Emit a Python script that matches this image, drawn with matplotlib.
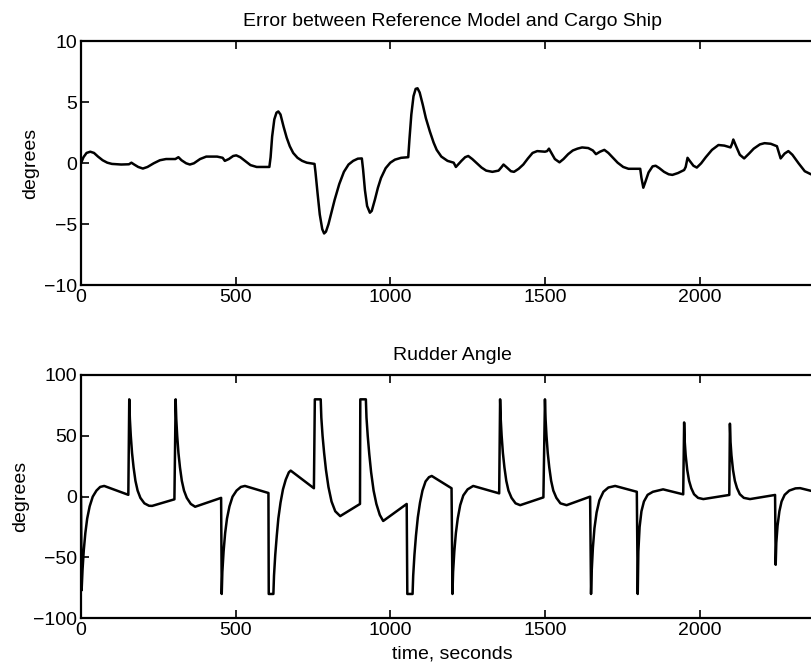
import matplotlib.pyplot as plt

# error between reference model and ship heading (degrees)
t_err = [0, 8, 18, 30, 42, 55, 70, 85, 100, 130, 155, 163, 172, 185, 200, 215,
         235, 255, 275, 305, 315, 325, 340, 352, 365, 385, 405, 440, 458, 465,
         478, 492, 502, 515, 530, 548, 568, 609, 613, 618, 625, 632, 638, 645,
         655, 665, 675, 686, 700, 715, 730, 755, 758, 765, 772, 780, 786, 792,
         800, 810, 820, 835, 850, 865, 880, 895, 908, 912, 918, 925, 934, 940,
         950, 960, 970, 985, 1000, 1015, 1035, 1058, 1062, 1068, 1075, 1082, 1088,
         1095, 1105, 1115, 1128, 1140, 1150, 1165, 1185, 1205, 1212, 1230, 1242,
         1252, 1265, 1280, 1295, 1310, 1330, 1350, 1360, 1366, 1375, 1390, 1400,
         1415, 1430, 1445, 1460, 1475, 1500, 1507, 1513, 1522, 1532, 1547, 1560,
         1575, 1590, 1605, 1620, 1640, 1655, 1665, 1678, 1692, 1705, 1720, 1735,
         1753, 1770, 1808, 1812, 1818, 1825, 1835, 1848, 1858, 1870, 1885, 1900,
         1912, 1930, 1950, 1955, 1961, 1968, 1980, 1991, 2005, 2020, 2040, 2061,
         2080, 2100, 2105, 2109, 2118, 2130, 2144, 2160, 2175, 2195, 2210, 2230,
         2250, 2256, 2262, 2275, 2287, 2300, 2320, 2340, 2360, 2400]
err = [0.0, 0.5, 0.85, 0.95, 0.85, 0.55, 0.25, 0.05, -0.05, -0.1, -0.08, 0.05,
       -0.1, -0.3, -0.43, -0.3, 0.0, 0.25, 0.35, 0.35, 0.5, 0.25, 0.0, -0.1, 0.0,
       0.35, 0.55, 0.55, 0.45, 0.2, 0.35, 0.6, 0.65, 0.5, 0.2, -0.15, -0.3, -0.3,
       0.5, 2.2, 3.6, 4.15, 4.25, 4.0, 3.0, 2.1, 1.4, 0.85, 0.45, 0.2, 0.05, -0.05,
       -0.7, -2.5, -4.2, -5.4, -5.75, -5.6, -5.0, -4.0, -3.0, -1.7, -0.7, -0.1, 0.2,
       0.38, 0.4, -0.5, -2.2, -3.5, -4.05, -3.9, -3.0, -2.0, -1.2, -0.4, 0.05, 0.3,
       0.45, 0.5, 2.0, 4.0, 5.5, 6.1, 6.15, 5.8, 4.8, 3.7, 2.6, 1.7, 1.1, 0.55,
       0.2, 0.05, -0.3, 0.2, 0.5, 0.6, 0.35, 0.0, -0.35, -0.6, -0.7, -0.6, -0.3,
       -0.1, -0.3, -0.65, -0.7, -0.45, -0.1, 0.4, 0.85, 1.0, 0.95, 1.0, 1.2, 0.8,
       0.35, 0.08, 0.35, 0.75, 1.05, 1.2, 1.3, 1.25, 1.05, 0.75, 0.95, 1.1, 0.85,
       0.45, 0.05, -0.3, -0.45, -0.45, -1.2, -2.0, -1.5, -0.75, -0.25, -0.2, -0.4,
       -0.7, -0.9, -0.95, -0.8, -0.55, -0.3, 0.45, 0.2, -0.2, -0.35, 0.0, 0.5, 1.1,
       1.5, 1.45, 1.3, 1.6, 1.95, 1.4, 0.7, 0.4, 0.8, 1.2, 1.55, 1.65, 1.6, 1.4,
       0.9, 0.4, 0.8, 1.0, 0.7, 0.0, -0.65, -0.9, -0.95]

# rudder angle (degrees)
t_rud = [0, 2, 5, 9, 14, 20, 28, 38, 50, 62, 75, 153,
         156, 158, 161, 165, 170, 176, 183, 192, 205, 220, 230, 302,
         306, 308, 311, 315, 320, 326, 333, 342, 355, 369, 453,
         455, 457, 461, 466, 472, 480, 490, 503, 517, 530, 606,
         607, 622, 624, 628, 633, 638, 645, 653, 662, 672, 678, 753,
         756, 775, 777, 781, 786, 792, 800, 810, 822, 838, 902,
         903, 921, 923, 927, 932, 938, 946, 955, 966, 977, 1053,
         1055, 1072, 1074, 1078, 1083, 1089, 1096, 1104, 1114, 1125, 1134, 1198,
         1201, 1203, 1207, 1212, 1218, 1226, 1236, 1250, 1268, 1352,
         1355, 1357, 1360, 1364, 1369, 1375, 1382, 1392, 1405, 1420, 1495,
         1500, 1502, 1505, 1509, 1514, 1520, 1527, 1537, 1550, 1570, 1646,
         1649, 1651, 1655, 1660, 1667, 1676, 1689, 1705, 1727, 1797,
         1800, 1802, 1806, 1812, 1820, 1832, 1849, 1882, 1947,
         1950, 1952, 1955, 1960, 1966, 1973, 1982, 1995, 2012, 2096,
         2098, 2100, 2103, 2108, 2114, 2121, 2130, 2143, 2163, 2244,
         2246, 2248, 2252, 2258, 2265, 2275, 2290, 2310, 2325, 2363, 2400]
rudder = [0, -77, -60, -44, -30, -18, -8, 0, 5, 8, 8.8, 1.5,
          80, 64, 50, 36, 24, 13, 5, -1, -5.5, -7.5, -7.6, -2.2,
          80, 64, 50, 36, 24, 13, 5, -1, -6, -8.3, -1,
          -80, -62, -45, -30, -18, -8, 0, 5, 8, 8.8, 3,
          -80, -80, -65, -48, -32, -18, -5, 6, 14, 20, 21.4, 6.9,
          80, 80, 65, 50, 36, 22, 8, -4, -12, -16, -6,
          80, 80, 65, 50, 35, 20, 5, -6, -15, -20, -6,
          -80, -80, -65, -48, -32, -17, -5, 5, 12.5, 16, 17, 6.9,
          -80, -62, -45, -30, -18, -7, 1, 6, 8.8, 2.7,
          80, 64, 50, 36, 24, 13, 5, -1, -5.5, -7, -0.6,
          80, 64, 50, 36, 24, 13, 5, -1, -5.5, -7, 0,
          -80, -62, -42, -26, -13, -3, 4, 7.5, 8.8, 4,
          -80, -45, -25, -12, -4, 1.5, 4, 6, 1.9,
          61, 45, 34, 22, 13, 7, 2, -1, -2, 1.4,
          60, 45, 34, 22, 13, 7, 2, -1, -2, 1.4,
          -56, -38, -24, -12, -4, 1.5, 5, 6.8, 7, 4.6, 3]

plt.rcParams['font.family'] = ['Liberation Sans', 'DejaVu Sans']
plt.rcParams['font.size'] = 14

fig = plt.figure(figsize=(8.12, 6.66), dpi=100)
W, H = 812, 666
xmax = 2400
width = xmax * 0.3093 / W

ax1 = fig.add_axes([81 / W, (H - 285.3) / H, width, 244 / H])
ax2 = fig.add_axes([81 / W, (H - 618.3) / H, width, 243.3 / H])

ax1.plot(t_err, err, color='black', lw=1.8)
ax1.set_xlim(0, xmax)
ax1.set_ylim(-10, 10)
ax1.set_yticks([-10, -5, 0, 5, 10])
ax1.set_title('Error between Reference Model and Cargo Ship', fontsize=14, pad=11)
ax1.set_ylabel('degrees', labelpad=3)

ax2.plot(t_rud, rudder, color='black', lw=1.8)
ax2.set_xlim(0, xmax)
ax2.set_ylim(-100, 100)
ax2.set_yticks([-100, -50, 0, 50, 100])
ax2.set_title('Rudder Angle', fontsize=14, pad=11)
ax2.set_ylabel('degrees', labelpad=3)
ax2.set_xlabel('time, seconds', labelpad=4)

for ax in (ax1, ax2):
    ax.set_xticks([0, 500, 1000, 1500, 2000])
    ax.tick_params(direction='in', length=6, width=1.2, top=True, right=True, pad=3)
    for s in ax.spines.values():
        s.set_linewidth(1.6)

fig.savefig('out.png', dpi=100)
